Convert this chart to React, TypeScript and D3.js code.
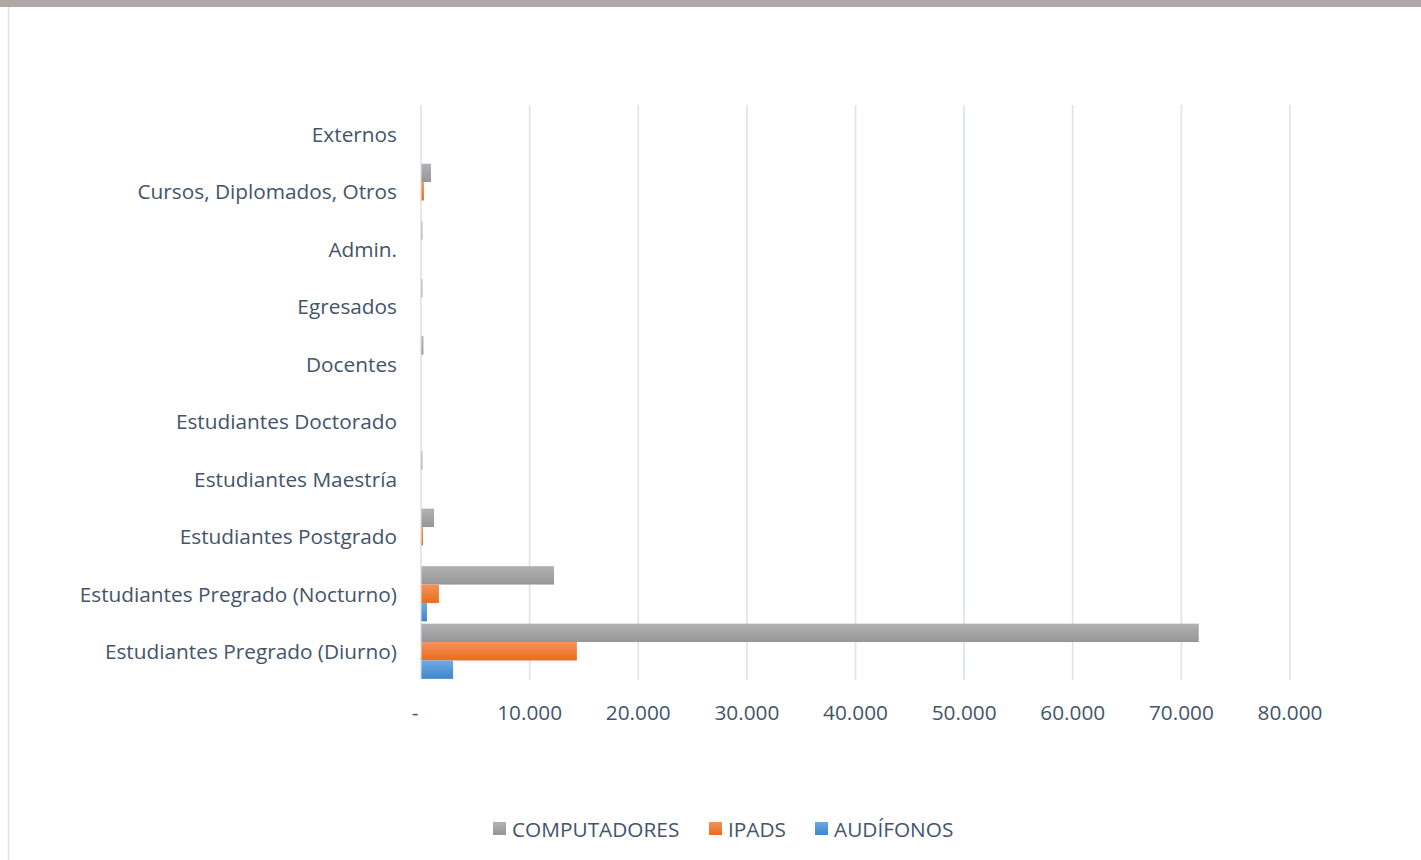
import React from "react";
import * as d3 from "d3";

const categories = [
  "Externos",
  "Cursos, Diplomados, Otros",
  "Admin.",
  "Egresados",
  "Docentes",
  "Estudiantes Doctorado",
  "Estudiantes Maestría",
  "Estudiantes Postgrado",
  "Estudiantes Pregrado (Nocturno)",
  "Estudiantes Pregrado (Diurno)",
];
const seriesNames = ["COMPUTADORES", "IPADS", "AUDÍFONOS"];
const computadores = [0, 920, 130, 130, 220, 20, 130, 1200, 12250, 71600];
const ipads = [0, 270, 0, 0, 0, 0, 0, 180, 1650, 14350];
const audifonos = [0, 0, 0, 0, 0, 0, 0, 0, 550, 2950];
const xTicks = [0, 10000, 20000, 30000, 40000, 50000, 60000, 70000, 80000];

const W = 1421;
const H = 860;
const FONT = "'Open Sans', sans-serif";
const TEXT = "#44546a";
const FS = 20.8;

const grads = [
  { id: "gGray", top: "#b2b2b2", bottom: "#969696" },
  { id: "gOrange", top: "#f4935c", bottom: "#e96c1b" },
  { id: "gBlue", top: "#6eaae2", bottom: "#3d86cb" },
];

export default function App() {
  const x = d3.scaleLinear().domain([0, 80000]).range([421, 1290]);
  const y = d3.scaleBand().domain(categories).range([105, 680]).paddingInner(0.04).paddingOuter(0.02);
  const sub = d3.scaleBand().domain(seriesNames).range([0, y.bandwidth()]);
  const data = [computadores, ipads, audifonos];
  const fmt = (v: number) => (v === 0 ? "-" : d3.format(",")(v).replace(/,/g, "."));

  const legendItems = [
    { name: seriesNames[0], x: 493, g: 0 },
    { name: seriesNames[1], x: 709, g: 1 },
    { name: seriesNames[2], x: 815, g: 2 },
  ];

  return (
    <div style={{ position: "absolute", left: 0, top: 0 }}>
      <svg width={W} height={H} style={{ display: "block" }}>
        <defs>
          {grads.map((g) => (
            <linearGradient key={g.id} id={g.id} x1="0" y1="0" x2="0" y2="1">
              <stop offset="0" stopColor={g.top} />
              <stop offset="1" stopColor={g.bottom} />
            </linearGradient>
          ))}
        </defs>
        <rect x={0} y={0} width={W} height={H} fill="#fff" />
        <rect x={0} y={0} width={W} height={7} fill="#aea9a7" />
        <line x1={8.5} x2={8.5} y1={7} y2={H} stroke="#dfe3e8" strokeWidth={1.5} />
        {xTicks.map((t) => (
          <line key={t} x1={x(t)} x2={x(t)} y1={105} y2={680} stroke="#e1e5ec" strokeWidth={1.8} />
        ))}
        {categories.map((c, i) =>
          data.map((series, s) => {
            const v = series[i];
            if (v <= 0) return null;
            return (
              <rect
                key={c + s}
                x={x(0) + 0.5}
                y={(y(c) as number) + (sub(seriesNames[s]) as number)}
                width={Math.max(0, x(v) - x(0) - 0.5)}
                height={sub.bandwidth()}
                fill={`url(#${grads[s].id})`}
              />
            );
          })
        )}
        {categories.map((c) => (
          <text
            key={c}
            x={397}
            y={(y(c) as number) + y.bandwidth() / 2}
            textAnchor="end"
            dominantBaseline="central"
            fontFamily={FONT}
            fontSize={FS}
            fill={TEXT}
          >
            {c}
          </text>
        ))}
        {xTicks.map((t) => (
          <text
            key={t}
            x={t === 0 ? x(t) - 6 : x(t)}
            y={712}
            textAnchor="middle"
            dominantBaseline="central"
            fontFamily={FONT}
            fontSize={FS}
            fill={TEXT}
          >
            {fmt(t)}
          </text>
        ))}
        {legendItems.map((l) => (
          <g key={l.name}>
            <rect x={l.x} y={822} width={13} height={13} fill={`url(#${grads[l.g].id})`} />
            <text x={l.x + 19} y={829} dominantBaseline="central" fontFamily={FONT} fontSize={FS} fill={TEXT}>
              {l.name}
            </text>
          </g>
        ))}
      </svg>
    </div>
  );
}
